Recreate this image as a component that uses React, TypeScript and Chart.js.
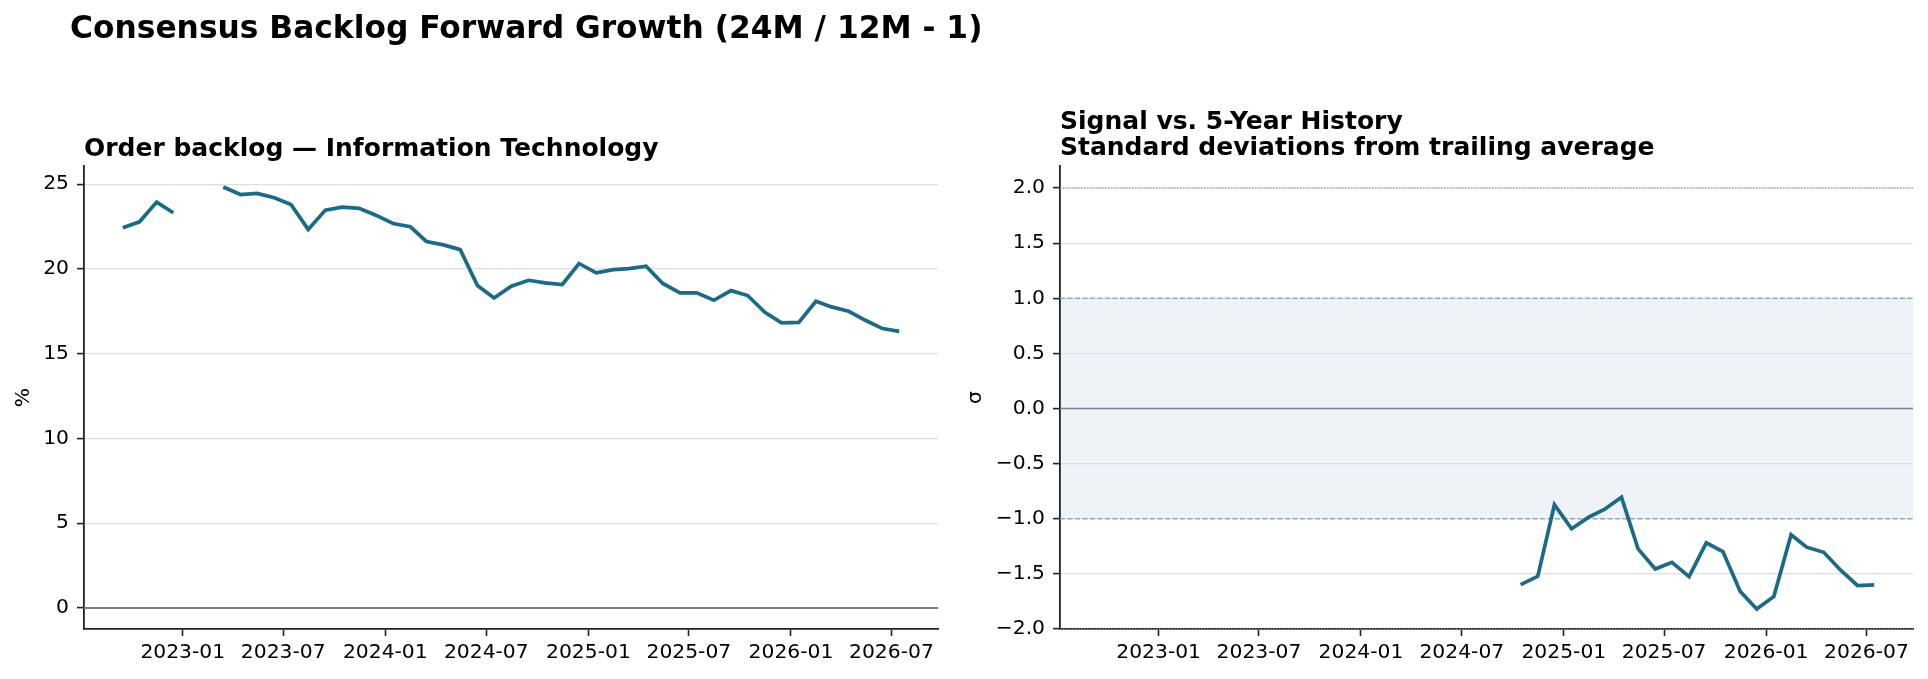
import React, { useEffect, useRef } from 'react';
import { Chart, registerables } from 'chart.js';
Chart.register(...registerables);

// ---------------- data ----------------
const backlogDates = [
  '2022-09-15', '2022-10-15', '2022-11-15', '2022-12-15',
  '2023-01-15', '2023-02-15', '2023-03-15', '2023-04-15', '2023-05-15', '2023-06-15',
  '2023-07-15', '2023-08-15', '2023-09-15', '2023-10-15', '2023-11-15', '2023-12-15',
  '2024-01-15', '2024-02-15', '2024-03-15', '2024-04-15', '2024-05-15', '2024-06-15',
  '2024-07-15', '2024-08-15', '2024-09-15', '2024-10-15', '2024-11-15', '2024-12-15',
  '2025-01-15', '2025-02-15', '2025-03-15', '2025-04-15', '2025-05-15', '2025-06-15',
  '2025-07-15', '2025-08-15', '2025-09-15', '2025-10-15', '2025-11-15', '2025-12-15',
  '2026-01-15', '2026-02-15', '2026-03-15', '2026-04-15', '2026-05-15', '2026-06-15',
  '2026-07-15',
];
const backlogGrowth: (number | null)[] = [
  22.43, 22.78, 23.94, 23.31,
  null, null, 24.83, 24.39, 24.45, 24.20,
  23.80, 22.33, 23.47, 23.64, 23.57, 23.17,
  22.68, 22.49, 21.62, 21.42, 21.14, 19.02,
  18.29, 18.98, 19.33, 19.18, 19.08, 20.32,
  19.77, 19.96, 20.02, 20.16, 19.14, 18.59,
  18.59, 18.15, 18.72, 18.43, 17.44, 16.82,
  16.85, 18.09, 17.76, 17.50, 16.97, 16.48,
  16.32,
];
const zDates = [
  '2024-10-15', '2024-11-15', '2024-12-15',
  '2025-01-15', '2025-02-15', '2025-03-15', '2025-04-15', '2025-05-15', '2025-06-15',
  '2025-07-15', '2025-08-15', '2025-09-15', '2025-10-15', '2025-11-15', '2025-12-15',
  '2026-01-15', '2026-02-15', '2026-03-15', '2026-04-15', '2026-05-15', '2026-06-15',
  '2026-07-15',
];
const zScore = [
  -1.597, -1.522, -0.873,
  -1.091, -0.985, -0.915, -0.804, -1.273, -1.455,
  -1.395, -1.525, -1.218, -1.297, -1.658, -1.818,
  -1.704, -1.145, -1.258, -1.304, -1.464, -1.606,
  -1.600,
];
const xTickLabels = ['2023-01', '2023-07', '2024-01', '2024-07', '2025-01', '2025-07', '2026-01', '2026-07'];
const leftYTicks = [0, 5, 10, 15, 20, 25];
const rightYTicks = [-2, -1.5, -1, -0.5, 0, 0.5, 1, 1.5, 2];
const rightYLimits = [-2, 2.2];
const bandLimits = [-1, 1];
const extremeLevels = [-2, 2];

const SUPTITLE = 'Consensus Backlog Forward Growth (24M / 12M - 1)';
const LEFT_TITLE = 'Order backlog — Information Technology';
const RIGHT_TITLE = ['Signal vs. 5-Year History', 'Standard deviations from trailing average'];

// ---------------- helpers ----------------
const FONT = "'DejaVu Sans', sans-serif";
const LINE_COLOR = '#1b6a87';
const GRID_COLOR = '#dedee5';
const SPINE_COLOR = '#222222';
const dayNum = (s: string) => Date.parse(s) / 86400000;
const monthLabelDay = (lbl: string) => dayNum(lbl + '-01');

const allDays = backlogDates.map(dayNum);
const dMin = Math.min(...allDays);
const dMax = Math.max(...allDays);
const xMargin = (dMax - dMin) * 0.05;
const X_MIN = dMin - xMargin;
const X_MAX = dMax + xMargin;

const leftVals = backlogGrowth.filter((v) => v !== null) as number[];
const lMin = Math.min(0, ...leftVals);
const lMax = Math.max(...leftVals);
const lMargin = (lMax - lMin) * 0.05;

function fmtSigma(v: number) {
  const s = Math.abs(v).toFixed(1);
  return v < 0 ? '\u2212' + s : s;
}

function makeXScale() {
  return {
    type: 'linear',
    min: X_MIN,
    max: X_MAX,
    afterBuildTicks: (scale: any) => {
      scale.ticks = xTickLabels.map((l) => ({ value: monthLabelDay(l) }));
    },
    afterFit: (scale: any) => {
      scale.height = 50;
    },
    ticks: {
      autoSkip: false,
      maxRotation: 0,
      minRotation: 0,
      padding: 5,
      color: '#000',
      font: { family: FONT, size: 20.3 },
      callback: (v: number) => {
        const i = xTickLabels.findIndex((l) => monthLabelDay(l) === v);
        return i >= 0 ? xTickLabels[i] : '';
      },
    },
    grid: {
      drawOnChartArea: false,
      drawTicks: true,
      tickLength: 7,
      tickColor: SPINE_COLOR,
      tickWidth: 1.6,
    },
    border: { display: true, color: SPINE_COLOR, width: 1.8 },
  };
}

function makeYScale(min: number, max: number, tickVals: number[], width: number, fmt: (v: number) => string, title: string, titlePad: number) {
  return {
    type: 'linear',
    min,
    max,
    afterBuildTicks: (scale: any) => {
      scale.ticks = tickVals.map((v) => ({ value: v }));
    },
    afterFit: (scale: any) => {
      scale.width = width;
    },
    ticks: {
      padding: 8,
      color: '#000',
      font: { family: FONT, size: 20.3 },
      callback: (v: number) => fmt(v),
    },
    grid: {
      color: GRID_COLOR,
      lineWidth: 1.2,
      drawTicks: true,
      tickLength: 7,
      tickColor: SPINE_COLOR,
      tickWidth: 1.6,
    },
    border: { display: true, color: SPINE_COLOR, width: 1.8 },
    title: {
      display: true,
      text: title,
      color: '#000',
      font: { family: FONT, size: 20.3 },
      padding: { top: titlePad, bottom: 0 },
    },
  };
}

function hLine(chart: any, value: number, color: string, width: number, dash: number[]) {
  const { ctx, chartArea } = chart;
  const y = chart.scales.y.getPixelForValue(value);
  ctx.save();
  ctx.strokeStyle = color;
  ctx.lineWidth = width;
  ctx.setLineDash(dash);
  ctx.beginPath();
  ctx.moveTo(chartArea.left, y);
  ctx.lineTo(chartArea.right, y);
  ctx.stroke();
  ctx.restore();
}

function drawTitles(chart: any, lines: string[], baselines: number[]) {
  const { ctx, chartArea } = chart;
  ctx.save();
  ctx.fillStyle = '#000';
  ctx.font = `bold 25px ${FONT}`;
  ctx.textAlign = 'left';
  ctx.textBaseline = 'alphabetic';
  lines.forEach((t, i) => ctx.fillText(t, chartArea.left, baselines[i]));
  ctx.restore();
}

const leftPlugin = {
  id: 'leftRefs',
  beforeDatasetsDraw(chart: any) {
    hLine(chart, 0, '#7d818f', 2, []);
  },
  afterDraw(chart: any) {
    drawTitles(chart, [LEFT_TITLE], [156]);
  },
};

const rightPlugin = {
  id: 'rightRefs',
  beforeDraw(chart: any) {
    const { ctx, chartArea } = chart;
    const y = chart.scales.y;
    const yTop = y.getPixelForValue(bandLimits[1]);
    const yBot = y.getPixelForValue(bandLimits[0]);
    ctx.save();
    ctx.fillStyle = '#eff3f8';
    ctx.fillRect(chartArea.left, yTop, chartArea.right - chartArea.left, yBot - yTop);
    ctx.restore();
  },
  beforeDatasetsDraw(chart: any) {
    extremeLevels.forEach((v) => hLine(chart, v, '#9a9fab', 1.2, [1.5, 1.5]));
    bandLimits.forEach((v) => hLine(chart, v, '#9aa8bd', 1.4, [5, 2.5]));
    hLine(chart, 0, '#7d818f', 1.6, []);
  },
  afterDraw(chart: any) {
    drawTitles(chart, RIGHT_TITLE, [128.5, 155]);
  },
};

function useChart(ref: React.RefObject<HTMLCanvasElement>, build: () => any) {
  useEffect(() => {
    if (!ref.current) return;
    const chart = new Chart(ref.current, build());
    return () => chart.destroy();
  }, []);
}

export default function App() {
  const leftRef = useRef<HTMLCanvasElement>(null);
  const rightRef = useRef<HTMLCanvasElement>(null);

  useEffect(() => {
    document.body.style.margin = '0';
  }, []);

  useChart(leftRef, () => ({
    type: 'line',
    data: {
      datasets: [
        {
          data: backlogDates.map((d, i) => ({ x: dayNum(d), y: backlogGrowth[i] })),
          borderColor: LINE_COLOR,
          borderWidth: 3.7,
          pointRadius: 0,
          spanGaps: false,
          tension: 0,
          fill: false,
        },
      ],
    },
    options: {
      animation: false,
      responsive: false,
      devicePixelRatio: 1,
      layout: { padding: { left: 0, top: 166, right: 22, bottom: 0 } },
      plugins: { legend: { display: false }, tooltip: { enabled: false }, title: { display: false } },
      scales: {
        x: makeXScale(),
        y: makeYScale(lMin - lMargin, lMax + lMargin, leftYTicks, 84, (v) => String(v), '%', 11.5),
      },
    },
    plugins: [leftPlugin],
  }));

  useChart(rightRef, () => ({
    type: 'line',
    data: {
      datasets: [
        {
          data: zDates.map((d, i) => ({ x: dayNum(d), y: zScore[i] })),
          borderColor: LINE_COLOR,
          borderWidth: 3.7,
          pointRadius: 0,
          tension: 0,
          fill: false,
        },
      ],
    },
    options: {
      animation: false,
      responsive: false,
      devicePixelRatio: 1,
      layout: { padding: { left: 0, top: 166, right: 15, bottom: 0 } },
      plugins: { legend: { display: false }, tooltip: { enabled: false }, title: { display: false } },
      scales: {
        x: makeXScale(),
        y: makeYScale(rightYLimits[0], rightYLimits[1], rightYTicks, 100, fmtSigma, 'σ', 3.7),
      },
    },
    plugins: [rightPlugin],
  }));

  return (
    <div style={{ position: 'relative', width: 1928, height: 679, background: '#fff', overflow: 'hidden' }}>
      <canvas ref={leftRef} width={960} height={679} style={{ position: 'absolute', left: 0, top: 0 }} />
      <canvas ref={rightRef} width={968} height={679} style={{ position: 'absolute', left: 960, top: 0 }} />
      <div
        style={{
          position: 'absolute',
          left: 70,
          top: 11,
          fontFamily: FONT,
          fontWeight: 'bold',
          fontSize: 31.3,
          lineHeight: '32px',
          whiteSpace: 'nowrap',
          color: '#000',
        }}
      >
        {SUPTITLE}
      </div>
    </div>
  );
}
